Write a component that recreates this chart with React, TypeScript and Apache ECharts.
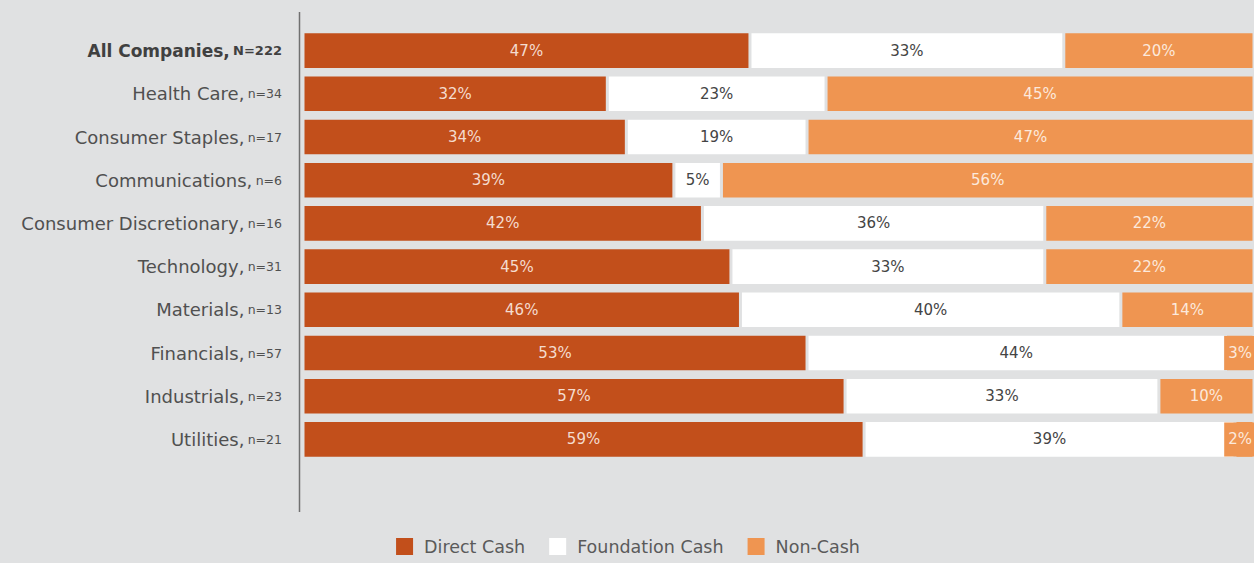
import React, { useEffect, useRef } from "react";
import * as echarts from "echarts";

const categories = [
  "All Companies",
  "Health Care",
  "Consumer Staples",
  "Communications",
  "Consumer Discretionary",
  "Technology",
  "Materials",
  "Financials",
  "Industrials",
  "Utilities",
];
const counts = ["N=222", "n=34", "n=17", "n=6", "n=16", "n=31", "n=13", "n=57", "n=23", "n=21"];
const directCash = [47, 32, 34, 39, 42, 45, 46, 53, 57, 59];
const foundationCash = [33, 23, 19, 5, 36, 33, 40, 44, 33, 39];
const nonCash = [20, 45, 47, 56, 22, 22, 14, 3, 10, 2];
const seriesNames = ["Direct Cash", "Foundation Cash", "Non-Cash"];

const BG = "#e0e1e2";
const FONT = "'DejaVu Sans', 'Open Sans', sans-serif";

export default function App() {
  const ref = useRef<HTMLDivElement>(null);
  useEffect(() => {
    if (!ref.current) return;
    const chart = echarts.init(ref.current, undefined, { renderer: "svg" });
    const mkSeries = (name: string, data: number[], color: string, textColor: string) => ({
      name,
      type: "bar",
      stack: "total",
      data: data.map((v) =>
        v < 4
          ? {
              value: v,
              label: {
                position: "insideRight",
                distance: 0,
                fontFamily: FONT,
                fontSize: 15,
                color: textColor,
                backgroundColor: color,
                padding: [10, 2, 9, 4],
              },
            }
          : v
      ),
      barCategoryGap: "13%",
      itemStyle: { color, borderColor: BG, borderWidth: 1.5 },
      label: {
        show: true,
        position: "inside",
        formatter: "{c}%",
        color: textColor,
        fontFamily: FONT,
        fontSize: 15,
      },
    });
    chart.setOption({
      animation: false,
      backgroundColor: BG,
      grid: { left: 303, right: 0, top: 29, height: 432, containLabel: false },
      xAxis: { type: "value", min: 0, max: 100, show: false },
      yAxis: {
        type: "category",
        data: categories,
        inverse: true,
        axisLine: { show: false },
        axisTick: { show: false },
        axisLabel: {
          margin: 21,
          formatter: (v: string, i: number) =>
            i === 0 ? `{b|${v},} {bs|${counts[i]}}` : `{a|${v},} {s|${counts[i]}}`,
          rich: {
            a: { fontFamily: FONT, fontSize: 18, color: "#505050" },
            s: { fontFamily: FONT, fontSize: 12.5, color: "#505050" },
            b: { fontFamily: FONT, fontSize: 17, color: "#404040", fontWeight: "bold" },
            bs: { fontFamily: FONT, fontSize: 13, color: "#404040", fontWeight: "bold" },
          },
        },
      },
      legend: {
        bottom: 1,
        left: "center",
        itemWidth: 19,
        itemHeight: 19,
        itemGap: 22,
        icon: "rect",
        data: seriesNames,
        textStyle: { fontFamily: FONT, fontSize: 17.5, color: "#5a5a5a", padding: [0, 0, 0, 5] },
      },
      graphic: [
        {
          type: "line",
          shape: { x1: 299.5, y1: 12, x2: 299.5, y2: 512 },
          style: { stroke: "#707070", lineWidth: 1.5 },
        },
      ],
      series: [
        mkSeries(seriesNames[0], directCash, "#c24f1b", "#f4dccf"),
        mkSeries(seriesNames[1], foundationCash, "#ffffff", "#444444"),
        mkSeries(seriesNames[2], nonCash, "#ef9551", "#fce9dc"),
      ],
    });
    return () => chart.dispose();
  }, []);
  return <div ref={ref} style={{ width: 1254, height: 563, position: "absolute", left: 0, top: 0 }} />;
}
